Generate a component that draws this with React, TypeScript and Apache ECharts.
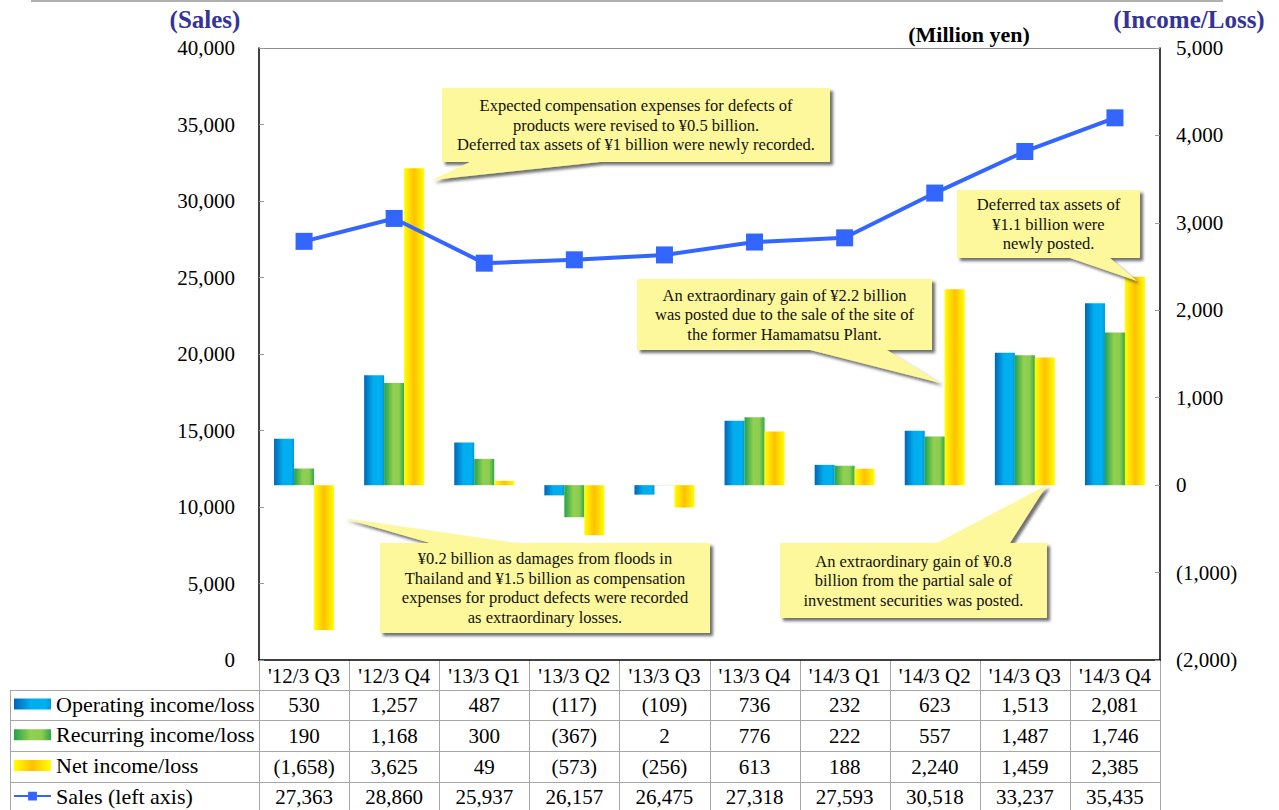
import React, { useEffect, useRef } from "react";
import * as echarts from "echarts";

// ---- data -----------------------------------------------------------------
const categories = [
  "'12/3 Q3", "'12/3 Q4", "'13/3 Q1", "'13/3 Q2", "'13/3 Q3",
  "'13/3 Q4", "'14/3 Q1", "'14/3 Q2", "'14/3 Q3", "'14/3 Q4",
];
const operatingIncome = [530, 1257, 487, -117, -109, 736, 232, 623, 1513, 2081];
const recurringIncome = [190, 1168, 300, -367, 2, 776, 222, 557, 1487, 1746];
const netIncome = [-1658, 3625, 49, -573, -256, 613, 188, 2240, 1459, 2385];
const sales = [27363, 28860, 25937, 26157, 26475, 27318, 27593, 30518, 33237, 35435];

const seriesNames = [
  "Operating income/loss",
  "Recurring income/loss",
  "Net income/loss",
  "Sales (left axis)",
];

const salesTicks = { min: 0, max: 40000, interval: 5000 };
const incomeTicks = { min: -2000, max: 5000, interval: 1000 };

// ---- layout ---------------------------------------------------------------
const W = 1279;
const H = 810;
const PLOT = { left: 259, right: 1160, top: 48, bottom: 660 };
const TABLE_LEFT = 10;
const ROW_LINES = [690, 720, 751, 782];
const ROW_CENTERS = [705, 736, 767, 797];
const SERIF = "'Liberation Serif', 'Times New Roman', serif";
const TITLE_BLUE = "#333399";
const GRID_GRAY = "#a6a6a6";

const fmt = (v: number) => {
  const s = Math.abs(v).toLocaleString("en-US");
  return v < 0 ? `(${s})` : s;
};

const hGrad = (stops: [number, string][]) =>
  new echarts.graphic.LinearGradient(
    0, 0, 1, 0,
    stops.map(([offset, color]) => ({ offset, color }))
  );

const blueFill = hGrad([[0, "#0066b6"], [0.45, "#00adef"], [0.85, "#00b0f0"], [1, "#0095da"]]);
const greenFill = hGrad([[0, "#25a24a"], [0.45, "#92d050"], [0.75, "#8ccc4f"], [1, "#2ea84a"]]);
const yellowFill = hGrad([[0, "#ffff00"], [0.5, "#ffc000"], [1, "#ffff00"]]);

// ---- callouts ---------------------------------------------------------------
type Callout = {
  box: [number, number, number, number];
  edge: "top" | "bottom";
  base: [number, number];
  tip: [number, number];
  lines: string[];
};

const callouts: Callout[] = [
  {
    box: [442, 88, 830, 162], edge: "bottom", base: [470, 600], tip: [432, 180],
    lines: [
      "Expected compensation expenses for defects of",
      "products were revised to \u00a50.5 billion.",
      "Deferred tax assets of \u00a51 billion were newly recorded.",
    ],
  },
  {
    box: [380, 543, 710, 633], edge: "top", base: [430, 517], tip: [343, 518],
    lines: [
      "\u00a50.2 billion as damages from floods in",
      "Thailand and \u00a51.5 billion as compensation",
      "expenses for product defects were recorded",
      "as extraordinary losses.",
    ],
  },
  {
    box: [637, 279, 932, 350], edge: "bottom", base: [810, 887], tip: [940, 383],
    lines: [
      "An extraordinary gain of \u00a52.2 billion",
      "was posted due to the sale of the site of",
      "the former Hamamatsu Plant.",
    ],
  },
  {
    box: [957, 190, 1140, 258], edge: "bottom", base: [1070, 1110], tip: [1137, 281],
    lines: ["Deferred tax assets of", "\u00a51.1 billion were", "newly posted."],
  },
  {
    box: [780, 543, 1047, 618], edge: "top", base: [937, 1010], tip: [1047, 485],
    lines: [
      "An extraordinary gain of \u00a50.8",
      "billion from the partial sale of",
      "investment securities was posted.",
    ],
  },
];

const calloutShape = (c: Callout): number[][] => {
  const [x1, y1, x2, y2] = c.box;
  const [b1, b2] = c.base;
  if (c.edge === "bottom") {
    return [[x1, y1], [x2, y1], [x2, y2], [b2, y2], c.tip, [b1, y2], [x1, y2]];
  }
  return [[x1, y1], [b1, y1], c.tip, [b2, y1], [x2, y1], [x2, y2], [x1, y2]];
};

const buildGraphics = () => {
  const els: any[] = [];
  const colW = (PLOT.right - PLOT.left) / categories.length;
  const line = (x1: number, y1: number, x2: number, y2: number, color = GRID_GRAY, w = 1) => ({
    type: "line",
    silent: true,
    shape: { x1, y1, x2, y2 },
    style: { stroke: color, lineWidth: w },
  });

  // page rule and plot frame
  els.push(line(31, 1, 1223, 1, "#b0b0b0", 2));
  els.push(line(PLOT.left, PLOT.top + 0.5, PLOT.right, PLOT.top + 0.5, "#8c8c8c", 1));

  // data table grid
  ROW_LINES.forEach((y) => els.push(line(TABLE_LEFT, y + 0.5, PLOT.right, y + 0.5)));
  els.push(line(TABLE_LEFT + 0.5, ROW_LINES[0], TABLE_LEFT + 0.5, H));
  for (let i = 0; i <= categories.length; i++) {
    const x = Math.round(PLOT.left + i * colW) + 0.5;
    els.push(line(x, PLOT.bottom, x, H));
  }

  // data table values
  const rows = [operatingIncome, recurringIncome, netIncome, sales];
  rows.forEach((vals, r) => {
    vals.forEach((v, i) => {
      els.push({
        type: "text",
        silent: true,
        x: PLOT.left + (i + 0.5) * colW,
        y: ROW_CENTERS[r],
        style: {
          text: fmt(v),
          fill: "#000",
          fontSize: 21,
          fontFamily: SERIF,
          align: "center",
          verticalAlign: "middle",
        },
      });
    });
  });

  // axis titles
  els.push({
    type: "text", x: 205, y: 19,
    style: { text: "(Sales)", fill: TITLE_BLUE, fontSize: 25, fontWeight: "bold", fontFamily: SERIF, align: "center", verticalAlign: "middle" },
  });
  els.push({
    type: "text", x: 1189, y: 19,
    style: { text: "(Income/Loss)", fill: TITLE_BLUE, fontSize: 25, fontWeight: "bold", fontFamily: SERIF, align: "center", verticalAlign: "middle" },
  });
  els.push({
    type: "text", x: 969, y: 34,
    style: { text: "(Million yen)", fill: "#000", fontSize: 22, fontWeight: "bold", fontFamily: SERIF, align: "center", verticalAlign: "middle" },
  });

  // annotation callouts
  callouts.forEach((c) => {
    const [x1, y1, x2, y2] = c.box;
    els.push({
      type: "polygon",
      silent: true,
      z: 100,
      shape: { points: calloutShape(c) },
      style: {
        fill: "#fdf89c",
        shadowColor: "rgba(60,60,60,0.75)",
        shadowBlur: 3,
        shadowOffsetX: 3,
        shadowOffsetY: 3,
      },
    });
    els.push({
      type: "text",
      silent: true,
      z: 101,
      x: (x1 + x2) / 2,
      y: (y1 + y2) / 2,
      style: {
        text: c.lines.join("\n"),
        fill: "#111",
        fontSize: 16.5,
        lineHeight: 19.5,
        fontFamily: SERIF,
        align: "center",
        verticalAlign: "middle",
      },
    });
  });

  return els;
};

export default function App() {
  const ref = useRef<HTMLDivElement>(null);

  useEffect(() => {
    if (!ref.current) return;
    const chart = echarts.init(ref.current, undefined, { renderer: "svg" });

    const barSeries = (name: string, data: number[], fill: any) => ({
      name,
      type: "bar",
      yAxisIndex: 1,
      data,
      barWidth: 20,
      barGap: "0%",
      itemStyle: { color: fill },
    });

    chart.setOption({
      animation: false,
      backgroundColor: "#fff",
      textStyle: { fontFamily: SERIF },
      grid: {
        left: PLOT.left,
        right: W - PLOT.right,
        top: PLOT.top,
        bottom: H - PLOT.bottom,
        containLabel: false,
      },
      legend: {
        orient: "vertical",
        left: 13,
        top: 693,
        itemWidth: 37,
        itemHeight: 11,
        itemGap: 8.7,
        padding: 0,
        selectedMode: false,
        textStyle: { fontSize: 22, fontFamily: SERIF, color: "#000", lineHeight: 22 },
        data: [
          { name: seriesNames[0], icon: "rect" },
          { name: seriesNames[1], icon: "rect" },
          { name: seriesNames[2], icon: "rect" },
          { name: seriesNames[3] },
        ],
      },
      xAxis: {
        type: "category",
        data: categories,
        axisLine: { onZero: false, lineStyle: { color: "#000", width: 1.5 } },
        axisTick: { show: false },
        axisLabel: {
          color: "#000",
          fontSize: 21,
          fontFamily: SERIF,
          margin: 5,
          interval: 0,
        },
      },
      yAxis: [
        {
          type: "value",
          position: "left",
          ...salesTicks,
          splitLine: { show: false },
          axisLine: { show: true, lineStyle: { color: "#000", width: 1.5 } },
          axisTick: { show: true, inside: true, length: 5, lineStyle: { color: "#999" } },
          axisLabel: {
            color: "#000",
            fontSize: 21,
            fontFamily: SERIF,
            margin: 24,
            formatter: (v: number) => fmt(v),
          },
        },
        {
          type: "value",
          position: "right",
          ...incomeTicks,
          splitLine: { show: false },
          axisLine: { show: true, onZero: false, lineStyle: { color: "#000", width: 1.5 } },
          axisTick: { show: true, inside: true, length: 5, lineStyle: { color: "#999" } },
          axisLabel: {
            color: "#000",
            fontSize: 21,
            fontFamily: SERIF,
            margin: 16,
            formatter: (v: number) => fmt(v),
          },
        },
      ],
      series: [
        barSeries(seriesNames[0], operatingIncome, blueFill),
        barSeries(seriesNames[1], recurringIncome, greenFill),
        barSeries(seriesNames[2], netIncome, yellowFill),
        {
          name: seriesNames[3],
          type: "line",
          yAxisIndex: 0,
          data: sales,
          symbol: "rect",
          symbolSize: 17,
          z: 5,
          lineStyle: { color: "#3366ff", width: 4 },
          itemStyle: { color: "#3366ff" },
        },
      ],
      graphic: buildGraphics(),
    });

    return () => chart.dispose();
  }, []);

  return (
    <div
      ref={ref}
      style={{ position: "fixed", left: 0, top: 0, width: W, height: H, background: "#fff" }}
    />
  );
}
